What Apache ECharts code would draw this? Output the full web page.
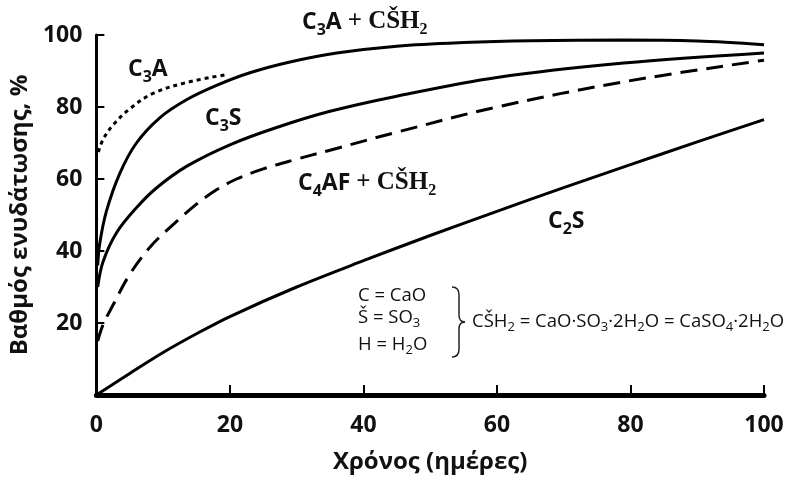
<!DOCTYPE html>
<html>
<head>
<meta charset="utf-8">
<script src="https://cdn.jsdelivr.net/npm/echarts@6/dist/echarts.min.js"></script>
<style>
html,body{margin:0;padding:0;background:#fff;}
#c{width:800px;height:491px;}
</style>
</head>
<body>
<div id="c"></div>
<script>
// ---- data ----
var xTicks = [0, 20, 40, 60, 80, 100];
var yTicks = [0, 20, 40, 60, 80, 100];

var c3aX = [0.3, 1, 2.5, 5, 8.5, 13.5, 19.5];
var c3aY = [67.5, 71, 75, 79.5, 83.8, 86.8, 89];

var c3aGypX = [0.2, 0.5, 1.5, 3.5, 6, 9.5, 13.5, 18, 23, 29, 36, 45, 55, 65, 79, 90, 100];
var c3aGypY = [36, 42, 51, 61.5, 70, 77, 82, 86, 89.5, 92.5, 95, 96.9, 97.9, 98.4, 98.6, 98.3, 97.3];

var c3sX = [0.2, 1, 3, 6, 9, 13.5, 20, 27, 35, 45, 60, 79, 100];
var c3sY = [30, 37, 45, 52, 57.5, 63.5, 69.5, 74.3, 78.8, 83, 88.2, 92.2, 95];

var c4afX = [0.2, 1, 2.5, 5, 8, 11, 15, 18, 21, 25, 30, 35, 45, 60, 79, 100];
var c4afY = [15, 19.5, 25, 33.5, 41, 46.5, 53, 57, 60, 62.8, 65.5, 68, 73, 80, 87, 93];

var c2sX = [0, 5, 10, 15, 20, 30, 40, 50, 60, 70, 80, 90, 100];
var c2sY = [0, 6, 11.8, 17, 21.8, 30, 37.3, 44.3, 51, 57.6, 64, 70.3, 76.5];

function pairs(xs, ys) { return xs.map(function (x, i) { return [x, ys[i]]; }); }

var SANS = '"Open Sans", "Noto Sans", sans-serif';
var SERIF = '"Liberation Serif", "DejaVu Serif", serif';

var rich = {
  b: {fontFamily: SANS, fontWeight: 'bold', fontSize: 23, lineHeight: 32, fill: '#111', verticalAlign: 'middle'},
  s: {fontFamily: SANS, fontWeight: 'bold', fontSize: 16, lineHeight: 32, fill: '#111', verticalAlign: 'bottom'},
  t: {fontFamily: SERIF, fontWeight: 'bold', fontSize: 25, lineHeight: 32, fill: '#111', verticalAlign: 'middle'},
  ts: {fontFamily: SERIF, fontWeight: 'bold', fontSize: 16, lineHeight: 32, fill: '#111', verticalAlign: 'bottom'},
  n: {fontFamily: SANS, fontSize: 18.5, lineHeight: 24, fill: '#111', verticalAlign: 'middle'},
  ns: {fontFamily: SANS, fontSize: 13, lineHeight: 24, fill: '#111', verticalAlign: 'bottom'}
};

function lbl(x, y, text) {
  return {type: 'text', x: x, y: y, style: {text: text, rich: rich, fill: '#111'}};
}

var BX = 452, BY = 287;
function bz(x1, y1, cx, cy, x2, y2) {
  return {type: 'bezierCurve', x: BX, y: BY,
    shape: {x1: x1, y1: y1, cpx1: cx, cpy1: cy, x2: x2, y2: y2},
    style: {fill: null, stroke: '#222', lineWidth: 1.5}};
}
function ln(x1, y1, x2, y2) {
  return {type: 'line', x: BX, y: BY, shape: {x1: x1, y1: y1, x2: x2, y2: y2},
    style: {stroke: '#222', lineWidth: 1.5}};
}

var chart = echarts.init(document.getElementById('c'), null, {renderer: 'canvas'});
var lineStyleBase = {color: '#000', width: 3};
function lineSeries(name, xs, ys, style) {
  return {name: name, type: 'line', smooth: 0.35, symbol: 'none',
    data: pairs(xs, ys), lineStyle: style};
}

chart.setOption({
  backgroundColor: '#fff',
  animation: false,
  grid: {left: 95, right: 36, top: 35, bottom: 96},
  xAxis: {
    type: 'value', min: 0, max: 100, interval: 20,
    name: 'Χρόνος (ημέρες)', nameLocation: 'middle', nameGap: 55,
    nameTextStyle: {fontFamily: SANS, fontWeight: 'bold', fontSize: 24, color: '#111'},
    axisLine: {show: true, lineStyle: {color: '#000', width: 5}},
    axisTick: {show: true, inside: true, length: 10, lineStyle: {color: '#000', width: 2}},
    axisLabel: {margin: 19, fontFamily: SANS, fontWeight: 'bold', fontSize: 23, color: '#111',
      formatter: function (v) { return xTicks.indexOf(v) >= 0 ? String(v) : ''; }},
    splitLine: {show: false}
  },
  yAxis: {
    type: 'value', min: 0, max: 100, interval: 20,
    name: 'Βαθμός ενυδάτωσης, %', nameLocation: 'middle', nameGap: 53,
    nameTextStyle: {fontFamily: SANS, fontWeight: 'bold', fontSize: 24, color: '#111'},
    axisLine: {show: true, lineStyle: {color: '#000', width: 3}},
    axisTick: {show: true, inside: true, length: 8, lineStyle: {color: '#000', width: 2}},
    axisLabel: {margin: 14, fontFamily: SANS, fontWeight: 'bold', fontSize: 23, color: '#111',
      formatter: function (v) { return (yTicks.indexOf(v) >= 0 && v !== 0) ? String(v) : ''; }},
    splitLine: {show: false}
  },
  series: [
    lineSeries('C3A', c3aX, c3aY, {color: '#000', width: 3, type: [4, 4]}),
    lineSeries('C3A + CŠH2', c3aGypX, c3aGypY, lineStyleBase),
    lineSeries('C3S', c3sX, c3sY, lineStyleBase),
    lineSeries('C4AF + CŠH2', c4afX, c4afY, {color: '#000', width: 3, type: [17, 9]}),
    lineSeries('C2S', c2sX, c2sY, lineStyleBase)
  ],
  graphic: [
    lbl(128, 53, '{b|C}{s|3}{b|A}'),
    lbl(302, 6, '{b|C}{s|3}{b|A }{t|+ CŠH}{ts|2}'),
    lbl(205, 102, '{b|C}{s|3}{b|S}'),
    lbl(298, 167, '{b|C}{s|4}{b|AF }{t|+ CŠH}{ts|2}'),
    lbl(548, 205, '{b|C}{s|2}{b|S}'),
    lbl(358, 284, '{n|C = CaO}'),
    lbl(358, 306, '{n|Š = SO}{ns|3}'),
    lbl(358, 333, '{n|H = H}{ns|2}{n|O}'),
    lbl(472, 310, '{n|CŠH}{ns|2}{n| = CaO·SO}{ns|3}{n|·2H}{ns|2}{n|O = CaSO}{ns|4}{n|·2H}{ns|2}{n|O}'),
    bz(0, 0, 7, 0, 7, 8), ln(7, 8, 7, 28), bz(7, 28, 7, 35, 13, 35),
    bz(13, 35, 7, 35, 7, 42), ln(7, 42, 7, 62), bz(7, 62, 7, 70, 0, 70)
  ]
});
</script>
</body>
</html>
